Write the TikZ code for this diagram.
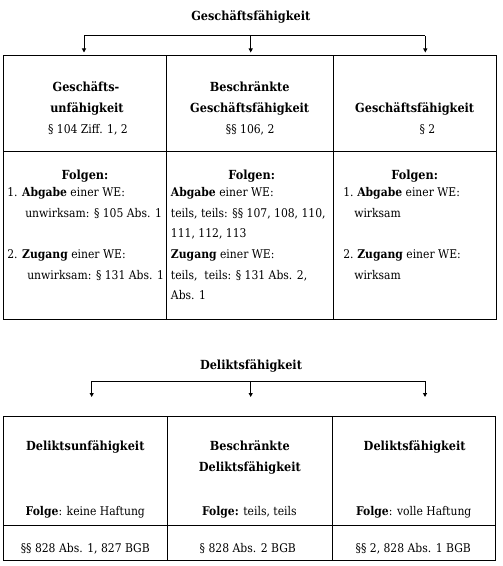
\documentclass[tikz,border=0pt]{standalone}
\usepackage{fontspec}
\setmainfont{DejaVu Serif}[FakeStretch=0.9]
\usetikzlibrary{arrows.meta}
\newcommand\myfs{\fontsize{9}{11}\selectfont}
\newcommand\mybf{\fontsize{9.4}{11}\selectfont\bfseries}
\begin{document}
\begin{tikzpicture}[x=0.75pt,y=-0.75pt,
  grid/.style={line width=0.75pt},
  ln/.style={inner sep=0pt, anchor=base, font=\myfs},
  lnb/.style={inner sep=0pt, anchor=base, font=\mybf},
  lnl/.style={inner sep=0pt, anchor=base west, font=\myfs},
  conn/.style={line width=0.75pt},
  arr/.style={line width=0.75pt, -{Triangle[length=3pt,width=3pt]}}]
\useasboundingbox (0,0) rectangle (502,566);

% ---------- Geschaeftsfaehigkeit ----------
\node[lnb] (gt) at (250.8,21) {Geschäftsfähigkeit};
\coordinate (gbl) at (84,36);
\coordinate (gbm) at (250.7,36);
\coordinate (gbr) at (425.3,36);
\coordinate (ga1) at (84,52.5);
\coordinate (ga2) at (250.7,52.5);
\coordinate (ga3) at (425.3,52.5);
\draw[conn] (gbl) -- (gbr);
\draw[arr] (gbl) -- (ga1);
\draw[arr] (gbm) -- (ga2);
\draw[arr] (gbr) -- (ga3);

\draw[grid] (3.5,56) rectangle (496,319);
\draw[grid] (3.5,151.7) -- (496,151.7);
\draw[grid] (166.3,56) -- (166.3,319);
\draw[grid] (333,56) -- (333,319);

\node[lnb] (g11a) at (86,91.5) {Geschäfts-};
\node[lnb] (g11b) at (87,112.5) {unfähigkeit};
\node[ln]  (g11c) at (88,133.5) {§ 104 Ziff. 1, 2};
\node[lnb] (g12a) at (249.7,91.5) {Beschränkte};
\node[lnb] (g12b) at (249.7,112.5) {Geschäftsfähigkeit};
\node[ln]  (g12c) at (250.2,133.5) {§§ 106, 2};
\node[lnb] (g13b) at (414.7,112.5) {Geschäftsfähigkeit};
\node[ln]  (g13c) at (427.5,133.5) {§ 2};

\node[lnb] (g21h) at (85,179.5) {Folgen:};
\node[lnb] (g22h) at (251.7,179.5) {Folgen:};
\node[lnb] (g23h) at (414.7,179.5) {Folgen:};

\node[lnl] (g21a) at (7,196.5) {1. \textbf{Abgabe} einer WE:};
\node[lnl] (g21b) at (25,217.5) {unwirksam: § 105 Abs. 1};
\node[lnl] (g21c) at (7,258.5) {2. \textbf{Zugang} einer WE:};
\node[lnl] (g21d) at (27,279.5) {unwirksam: § 131 Abs. 1};

\node[lnl] (g22a) at (170.7,196.5) {\textbf{Abgabe} einer WE:};
\node[lnl] (g22b) at (170.7,217.5) {teils, teils: §§ 107, 108, 110,};
\node[lnl] (g22c) at (170.7,237.5) {111, 112, 113};
\node[lnl] (g22d) at (170.7,258.5) {\textbf{Zugang} einer WE:};
\node[lnl] (g22e) at (170.7,279.5) {teils,\ \ teils: § 131 Abs. 2,};
\node[lnl] (g22f) at (170.7,299.5) {Abs. 1};

\node[lnl] (g23n1) at (343,196.5) {1.};
\node[lnl] (g23a) at (357,196.5) {\textbf{Abgabe} einer WE:};
\node[lnl] (g23b) at (354,217.5) {wirksam};
\node[lnl] (g23n2) at (343,258.5) {2.};
\node[lnl] (g23c) at (357,258.5) {\textbf{Zugang} einer WE:};
\node[lnl] (g23d) at (354,279.5) {wirksam};

% ---------- Deliktsfaehigkeit ----------
\node[lnb] (dt) at (251,369.5) {Deliktsfähigkeit};
\coordinate (dbl) at (91.7,381);
\coordinate (dbm) at (250.7,381);
\coordinate (dbr) at (425,381);
\coordinate (da1) at (91.7,397);
\coordinate (da2) at (250.7,397);
\coordinate (da3) at (425,397);
\draw[conn] (dbl) -- (dbr);
\draw[arr] (dbl) -- (da1);
\draw[arr] (dbm) -- (da2);
\draw[arr] (dbr) -- (da3);

\draw[grid] (3.3,416) rectangle (495.7,560);
\draw[grid] (3.3,525) -- (495.7,525);
\draw[grid] (167.3,416) -- (167.3,560);
\draw[grid] (332.7,416) -- (332.7,560);

\node[lnb] (d11) at (85.3,450.5) {Deliktsunfähigkeit};
\node[lnb] (d12a) at (249.8,450.5) {Beschränkte};
\node[lnb] (d12b) at (249.8,471.5) {Deliktsfähigkeit};
\node[lnb] (d13) at (414.7,450.5) {Deliktsfähigkeit};

\node[ln] (d21) at (85.3,515) {\textbf{Folge}: keine Haftung};
\node[ln] (d22) at (249.3,515) {\textbf{Folge:} teils, teils};
\node[ln] (d23) at (413.7,515) {\textbf{Folge}: volle Haftung};

\node[ln] (d31) at (85.3,552.5) {§§ 828 Abs. 1, 827 BGB};
\node[ln] (d32) at (247.8,552.5) {§ 828 Abs. 2 BGB};
\node[ln] (d33) at (413.3,552.5) {§§ 2, 828 Abs. 1 BGB};
\end{tikzpicture}
\end{document}
